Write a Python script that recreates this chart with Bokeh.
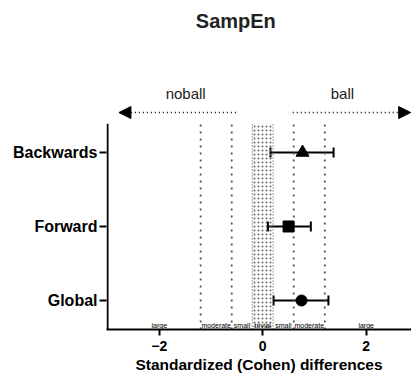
from bokeh.plotting import figure
from bokeh.models import (ColumnDataSource, Whisker, TeeHead, Arrow, NormalHead,
                          FixedTicker, Range1d)
from bokeh.core.properties import value
from bokeh.embed import file_html
from bokeh.resources import INLINE

# ---- data ----
categories = ["Global", "Forward", "Backwards"]
cat_pos = [1, 2, 3]
estimate = [0.75, 0.50, 0.77]
ci_low = [0.21, 0.10, 0.15]
ci_high = [1.27, 0.93, 1.37]
markers = ["circle", "square", "triangle"]
marker_sizes = [11, 11, 13]

thresholds = [-1.2, -0.6, 0.6, 1.2]
trivial_band = [-0.2, 0.2]

effect_labels = ["large", "moderate", "small", "trivial", "small", "moderate", "large"]
effect_x = [-2.0, -0.9, -0.4, 0.0, 0.4, 0.9, 2.0]

x_ticks = [-2, 0, 2]
x_range = (-3.02, 2.876)
y_range = (0.608, 5.054)
y_top_axis = 3.39

arrow_y = 3.54
noball_arrow = (-0.52, -2.78)
ball_arrow = (0.58, 2.86)
dir_labels = ["noball", "ball"]
dir_label_x = [-1.49, 1.54]
dir_label_y = 3.80

title_text = "SampEn"
title_x = -0.52
title_y = 4.78

FONT = "Liberation Sans"

p = figure(width=411, height=385, output_backend="svg", toolbar_location=None,
           x_range=Range1d(*x_range), y_range=Range1d(*y_range),
           min_border_left=106, min_border_right=0, min_border_top=0,
           min_border_bottom=56)
p.outline_line_color = None
p.xgrid.visible = False
p.ygrid.visible = False
p.background_fill_color = "white"

# trivial band
p.quad(left=[trivial_band[0]], right=[trivial_band[1]], bottom=[y_range[0]], top=[y_top_axis],
       fill_color=None, line_color=None, hatch_pattern="dot", hatch_color="#666666",
       hatch_scale=4, hatch_weight=1.2)
for xb in trivial_band:
    p.segment(x0=[xb], y0=[y_range[0]], x1=[xb], y1=[y_top_axis], line_color="#666666",
              line_width=1.2, line_dash="1 2")

# threshold lines
for xt in thresholds:
    p.segment(x0=[xt], y0=[y_range[0]], x1=[xt], y1=[y_top_axis], line_color="#555555",
              line_width=1.8, line_dash="2 5")

# left axis line (partial)
p.segment(x0=[-3.0], y0=[y_range[0]], x1=[-3.0], y1=[y_top_axis], line_color="black", line_width=2)

# effect labels
p.text(x=effect_x, y=[0.665] * len(effect_x), text=effect_labels, text_font=value(FONT),
       text_font_size="7px", text_align="center", text_baseline="alphabetic", text_color="black")

# error bars
src = ColumnDataSource(dict(y=cat_pos, est=estimate, lo=ci_low, hi=ci_high,
                            marker=markers, size=marker_sizes))
w = Whisker(base="y", lower="lo", upper="hi", dimension="width", source=src,
            line_width=2, line_color="black",
            upper_head=TeeHead(size=10, line_width=2, line_color="black"),
            lower_head=TeeHead(size=10, line_width=2, line_color="black"))
p.add_layout(w)
p.scatter(x="est", y="y", marker="marker", size="size", source=src,
          fill_color="black", line_color="black")

# direction arrows
p.add_layout(Arrow(end=NormalHead(size=12, fill_color="black", line_color="black"),
                   x_start=noball_arrow[0], y_start=arrow_y, x_end=noball_arrow[1], y_end=arrow_y,
                   line_dash="1 3", line_width=1.6, line_color="black"))
p.add_layout(Arrow(end=NormalHead(size=12, fill_color="black", line_color="black"),
                   x_start=ball_arrow[0], y_start=arrow_y, x_end=ball_arrow[1], y_end=arrow_y,
                   line_dash="1 3", line_width=1.6, line_color="black"))
p.text(x=dir_label_x, y=[dir_label_y] * 2, text=dir_labels, text_font=value(FONT),
       text_font_size="15px", text_align="center", text_baseline="middle", text_color="#222222")

# title
p.text(x=[title_x], y=[title_y], text=[title_text], text_font=value(FONT),
       text_font_size="20px", text_font_style="bold", text_align="center",
       text_baseline="middle", text_color="#222222")

# axes
p.xaxis.ticker = FixedTicker(ticks=x_ticks)
p.xaxis.minor_tick_line_color = None
p.xaxis.major_tick_out = 6
p.xaxis.major_tick_in = 0
p.xaxis.major_tick_line_width = 2
p.xaxis.axis_line_width = 2
p.xaxis.major_label_text_font = FONT
p.xaxis.major_label_text_font_size = "14px"
p.xaxis.major_label_text_font_style = "bold"
p.xaxis.major_label_standoff = 5
p.xaxis.axis_label = "Standardized (Cohen) differences"
p.xaxis.axis_label_text_font = FONT
p.xaxis.axis_label_text_font_size = "15.5px"
p.xaxis.axis_label_text_font_style = "bold"
p.xaxis.axis_label_standoff = 2
p.xaxis.major_label_text_color = "black"
p.xaxis.axis_label_text_color = "black"

p.yaxis.ticker = FixedTicker(ticks=cat_pos)
p.yaxis.major_label_overrides = {c: n for c, n in zip(cat_pos, categories)}
p.yaxis.minor_tick_line_color = None
p.yaxis.axis_line_color = None
p.yaxis.major_tick_out = 7
p.yaxis.major_tick_in = 0
p.yaxis.major_tick_line_width = 2
p.yaxis.major_label_text_font = FONT
p.yaxis.major_label_text_font_size = "16px"
p.yaxis.major_label_text_font_style = "bold"
p.yaxis.major_label_standoff = 2
p.yaxis.major_label_text_color = "black"

open("out.html", "w").write(file_html(p, INLINE))
